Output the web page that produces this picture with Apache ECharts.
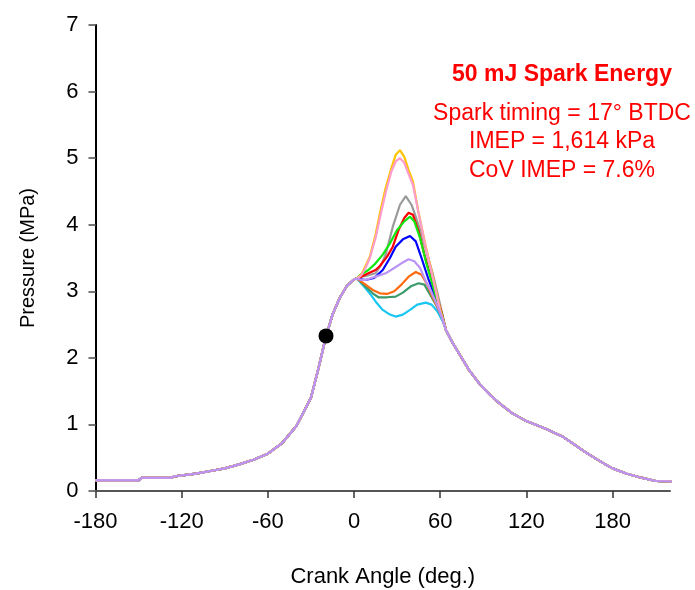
<!DOCTYPE html>
<html>
<head>
<meta charset="utf-8">
<script src="https://cdn.jsdelivr.net/npm/echarts@6.0.0/dist/echarts.min.js"></script>
<style>
  html, body { margin: 0; padding: 0; background: #fff; }
  #chart { width: 695px; height: 590px; }
</style>
</head>
<body>
<div id="chart"></div>
<script>
// shared compression stroke (crank angle, MPa)
const compression = [
  [-180, 0.16], [-150, 0.16], [-148, 0.2], [-127, 0.2], [-125, 0.22], [-110, 0.26],
  [-100, 0.3], [-90, 0.34], [-80, 0.4], [-70, 0.47], [-60, 0.56], [-50, 0.72],
  [-40, 0.98], [-30, 1.4], [-25, 1.82], [-20, 2.28], [-15, 2.65], [-10, 2.9],
  [-5, 3.08], [0, 3.18], [2, 3.19]
];

// shared late expansion
const expansion = [
  [64, 2.42], [68, 2.25], [73, 2.07], [80, 1.82], [87, 1.62], [95, 1.44],
  [100, 1.34], [110, 1.17], [120, 1.05], [133, 0.94], [145, 0.82], [152, 0.72],
  [160, 0.6], [168, 0.49], [175, 0.4], [180, 0.34], [190, 0.26], [200, 0.2],
  [210, 0.15], [226, 0.14]
];

// individual cycles around TDC
const cycYellow = [[5, 3.25], [8, 3.38], [11, 3.52], [15, 3.85], [18, 4.17], [22, 4.55], [26, 4.85], [29, 5.05], [32, 5.12], [35, 5.02], [38, 4.82], [41, 4.65], [45, 4.17], [50, 3.67], [54, 3.3], [57, 3.02], [60, 2.72]];
const cycPink = [[5, 3.24], [8, 3.35], [11, 3.5], [15, 3.8], [18, 4.1], [22, 4.48], [26, 4.8], [29, 4.95], [32, 5.0], [35, 4.93], [38, 4.76], [41, 4.6], [45, 4.17], [50, 3.65], [54, 3.28], [57, 3.0], [60, 2.7]];
const cycGray = [[5, 3.22], [10, 3.24], [15, 3.27], [19, 3.4], [22, 3.55], [27, 3.97], [32, 4.3], [36, 4.43], [40, 4.3], [43, 4.12], [47, 3.85], [51, 3.55], [55, 3.25], [58, 2.98], [61, 2.7]];
const cycRed = [[5, 3.22], [10, 3.27], [15, 3.32], [18, 3.38], [23, 3.52], [27, 3.67], [31, 3.92], [35, 4.1], [38, 4.18], [41, 4.15], [45, 3.9], [49, 3.55], [53, 3.25], [57, 2.95], [61, 2.68]];
const cycGreen = [[4, 3.24], [10, 3.32], [15, 3.42], [20, 3.55], [25, 3.72], [30, 3.92], [35, 4.05], [39, 4.12], [42, 4.05], [46, 3.8], [50, 3.45], [54, 3.15], [57, 2.92], [61, 2.66]];
const cycBlue = [[5, 3.18], [8, 3.17], [14, 3.2], [20, 3.32], [25, 3.5], [29, 3.67], [34, 3.78], [39, 3.83], [43, 3.75], [47, 3.5], [52, 3.17], [56, 2.95], [60, 2.72]];
const cycLavender = [[5, 3.17], [8, 3.17], [15, 3.22], [22, 3.27], [28, 3.35], [33, 3.42], [38, 3.48], [42, 3.45], [46, 3.35], [50, 3.15], [54, 2.98], [58, 2.78], [61, 2.62]];
const cycOrange = [[4, 3.16], [8, 3.1], [13, 3.02], [18, 2.97], [23, 2.96], [28, 3.0], [33, 3.1], [38, 3.22], [43, 3.29], [47, 3.25], [51, 3.1], [55, 2.9], [59, 2.72], [62, 2.58]];
const cycSeaGreen = [[4, 3.16], [8, 3.07], [13, 2.97], [17, 2.91], [23, 2.91], [29, 2.92], [34, 2.98], [40, 3.08], [45, 3.12], [49, 3.1], [53, 2.95], [57, 2.8], [61, 2.62]];
const cycCyan = [[3, 3.17], [7, 3.07], [12, 2.94], [16, 2.82], [20, 2.72], [25, 2.65], [29, 2.62], [34, 2.65], [39, 2.72], [44, 2.8], [50, 2.83], [54, 2.8], [58, 2.7], [62, 2.54]];

const sparkPoint = [[-19.5, 2.33]];

const xTicks = [-180, -120, -60, 0, 60, 120, 180];

// back to front
const cycles = [
  { data: cycCyan, color: '#19c6f2' },
  { data: cycSeaGreen, color: '#3a9a6a' },
  { data: cycOrange, color: '#ff6a10' },
  { data: cycBlue, color: '#0000ff' },
  { data: cycGray, color: '#9a9a9a' },
  { data: cycRed, color: '#ff0000' },
  { data: cycGreen, color: '#10e810' },
  { data: cycYellow, color: '#ffc400' },
  { data: cycPink, color: '#ff9ccc' },
  { data: cycLavender, color: '#bb93f7' }
];

const chart = echarts.init(document.getElementById('chart'));

const lineSeries = cycles.map(c => ({
  type: 'line',
  data: compression.concat(c.data, expansion),
  showSymbol: false,
  clip: false,
  lineStyle: { color: c.color, width: 2.2 },
  itemStyle: { color: c.color }
}));

const option = {
  animation: false,
  backgroundColor: '#fff',
  textStyle: { fontFamily: 'Liberation Sans, Arial, sans-serif' },
  grid: { left: 95.5, right: 25, top: 25, bottom: 99, outerBoundsMode: 'none', containLabel: false },
  title: [
    {
      text: '50 mJ Spark Energy',
      left: 557, top: 58, textAlign: 'center',
      textStyle: { color: '#ff0000', fontSize: 23, fontWeight: 'bold', fontFamily: 'Liberation Sans' }
    },
    {
      text: 'Spark timing = 17\u00b0 BTDC\nIMEP = 1,614 kPa\nCoV IMEP = 7.6%',
      left: 557, top: 94, textAlign: 'center',
      textStyle: { color: '#ff0000', fontSize: 23, fontWeight: 'normal', lineHeight: 28.5, fontFamily: 'Liberation Sans', align: 'center' }
    }
  ],
  xAxis: {
    type: 'value',
    min: -180, max: 220, interval: 60,
    name: 'Crank Angle (deg.)',
    nameLocation: 'middle',
    nameGap: 75,
    nameTextStyle: { fontSize: 22, color: '#000' },
    axisLine: { onZero: false, lineStyle: { color: '#555', width: 2 } },
    axisTick: { show: true, length: 7, customValues: xTicks, lineStyle: { color: '#333', width: 1.5 } },
    axisLabel: { customValues: xTicks, margin: 20, fontSize: 22, color: '#000' },
    splitLine: { show: false }
  },
  yAxis: {
    type: 'value',
    min: 0, max: 7, interval: 1,
    name: 'Pressure (MPa)',
    nameLocation: 'middle',
    nameGap: 57,
    nameTextStyle: { fontSize: 20, color: '#000' },
    axisLine: { show: true, onZero: false, lineStyle: { color: '#000', width: 2 } },
    axisTick: { show: true, length: 7, lineStyle: { color: '#777', width: 2 } },
    axisLabel: { margin: 17, fontSize: 22, color: '#000' },
    splitLine: { show: false }
  },
  series: lineSeries.concat([{
    type: 'scatter',
    data: sparkPoint,
    symbolSize: 15,
    itemStyle: { color: '#000', opacity: 1 },
    z: 5
  }])
};

chart.setOption(option);
</script>
</body>
</html>
